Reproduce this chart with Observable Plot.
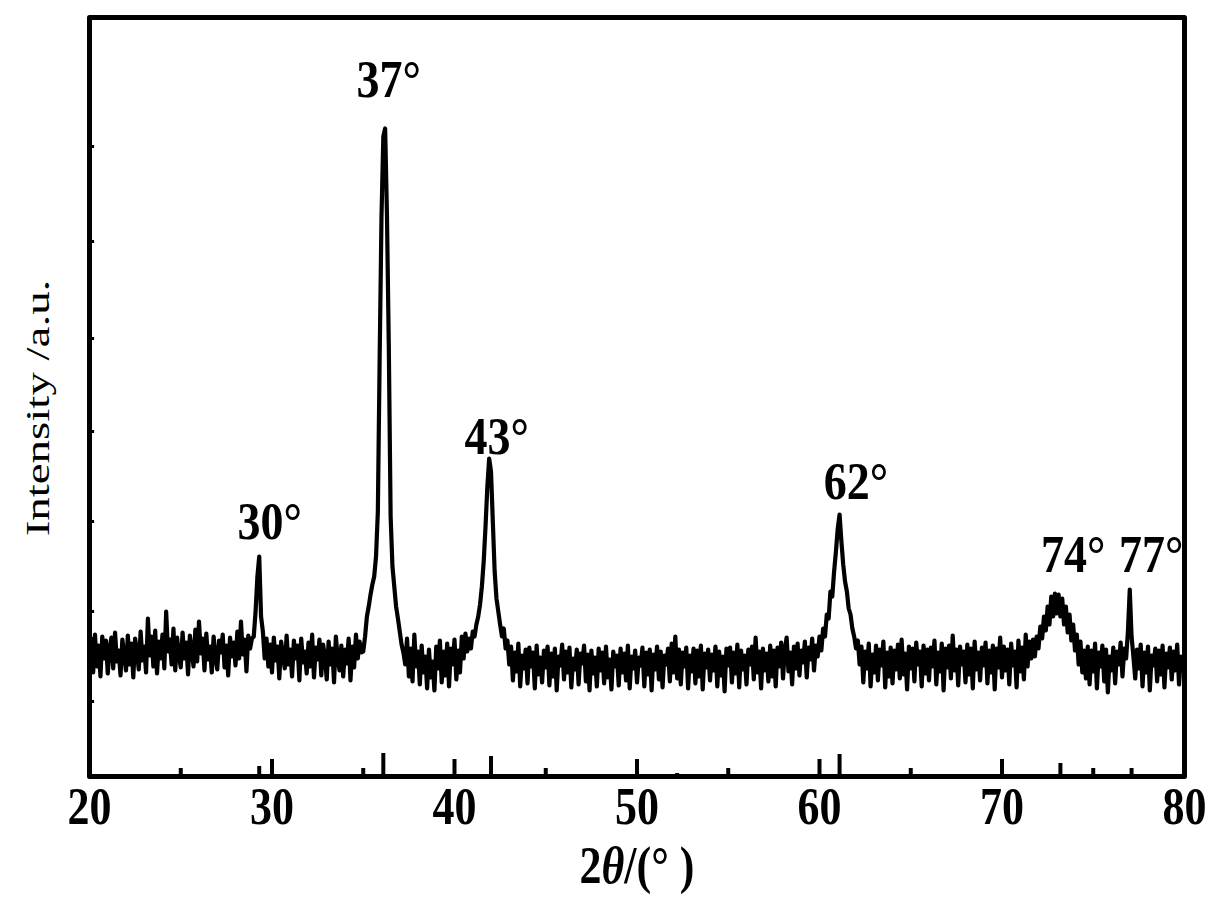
<!DOCTYPE html>
<html><head><meta charset="utf-8">
<script src="https://cdn.jsdelivr.net/npm/d3@7"></script>
<script src="https://cdn.jsdelivr.net/npm/@observablehq/plot@0.6"></script>
<style>body{margin:0;background:#fff}#chart{width:1210px;height:903px}</style>
</head><body><div id="chart"></div>
<script>
const STEP = 0.1;
const seg20 = [
120,138,104,142,110,131,100,140,118,136,
103,128,139,108,144,115,126,101,137,122,
106,141,112,133,99,138,124,107,145,116,
130,104,158,121,140,110,146,103,135,118,
142,108,165,125,137,112,148,106,139,121,
109,144,118,134,102,141,127,110,147,115,
155,123,138,106,143,117,130,104,140,119,
107,136,124,142,109,131,101,139,120,134,
111,145,118,155,122,137,105,141,128,138,
140,165,200,220,160,145,118,138,110,132];
const seg30 = [
104,139,116,130,98,135,121,108,141,112,
127,100,136,118,131,96,138,114,125,103,
134,110,142,99,129,117,137,101,132,120,
97,135,112,128,94,140,118,106,131,100,
127,113,138,96,130,109,142,118,135,124];
const seg35 = [125,140,160,170,182,192,200,220,265,420,560,640,648,560,430,260,210,190,170,158,145,132,124,112];
const seg374 = [
138,100,128,95,142,110,125,92,131,104,
120,88,127,99,115,86,130,108,136,94,
125,101,133,90,128,112,137,97,126,104,
140,118,143,125,
138,128,145,140,152,160,172,190,215,250,290,318,305,255,205,178,165,152,140,148,128,136,112];
const seg431 = [
130,96,124,105,133,90,121,108,127,
93,129,110,124,88,131,102,119,94,126,
109,130,91,123,100,128,86,120,111,132,
97,125,104,129,89,118,107,127,92,123,
113,131,95,122,86,126,103,119,90,128,
106,124,93,130,99,117,87,125,110,121,
91,128,104,123,96,131,88,120,108,126,
94,119,111,129,90,124,102,127,86,122,
107,130,97,125,89,121,112,128,95,133,
104,140,98,127,92,124,110,129,88,121,
105,128,93,126,100,131,87,123,109,127,
96,122,106,130,90,125,101,120,85,128,
111,129,94,124,103,132,89,126,107,121,
92,127,112,130,97,139,104,125,88,128,
106,123,95,131,100,126,90,129,110,134,
98,127,139,105,124,92,130,108,133,101,
126,114,135,99,129,117,138,106,131];
const seg599 = [120,140,126,148,140,162,158,185,180,205,225,248,262,235,212,195,185,168,162,148,140,128,136,112];
const seg623 = [
130,94,125,108,133,90,122,
104,131,96,127,111,135,89,124,100,129,
93,126,107,132,98,137,102,123,87,130,
108,128,95,134,112,125,90,131,103,127,
96,129,110,136,92,124,105,133,86,128,
109,131,98,141,106,127,91,130,112,125,
94,132,102,128,88,135,107,124,96,129,
111,134,93,126,104,131,87,128,109,139,
99,130,106,127,92,133,111,125,89,136,
105,129,97,142,110,135,118,137];
const seg718 = [120,140,128,150,138,160,146,170,152,180,160,183,163,182,160,178,152,170,144,162,136,152,126,142,112,135,104,126,98];
const seg747 = [
130,92,126,105,133,88,124,110,131,95,127,84,120,106,129,93,125,112,134,100,128,
118,145,187,140,120,
98,127,108,132,90,124,104,130,86,121,111,128,95,126,102,131,89,123,109,129,97,125,106,132,92,120,110,118];
const segmentStarts = [20.0, 30.0, 35.0, 37.4, 43.1, 59.9, 62.3, 71.8, 74.7];
const segmentValues = [seg20, seg30, seg35, seg374, seg431, seg599, seg623, seg718, seg747];

// axis ticks and reference stick pattern on the bottom axis
const xTickLabels = [20, 30, 40, 50, 60, 70, 80];
const majorTicks = [30, 40, 50, 60, 70];
const minorTicks = [25, 35, 45, 55, 65, 75];
const stickAngle = [29.3, 36.1, 42.0, 52.2, 61.1, 73.2, 77.1];
const stickIntensity = [10, 23, 20, 3, 22, 13, 8];
const yTicks = [75, 165, 255, 345, 438, 535, 630];

// peak annotations
const peakLabels = ["30°", "37°", "43°", "62°", "74°", "77°"];
const peakLabelAngle = [29.87, 36.39, 42.31, 62.0, 73.9, 78.17];
const peakLabelIntensity = [254, 696, 339, 294, 221, 221];

const xLabel = "2θ/(° )";
const yLabel = "Intensity /a.u.";

const pattern = segmentStarts.flatMap((s, k) =>
  segmentValues[k].map((v, i) => ({angle: +(s + i * STEP).toFixed(2), intensity: v})));
const sticks = stickAngle.map((a, i) => ({angle: a, h: stickIntensity[i]}));
const peaks = peakLabels.map((t, i) => ({text: t, angle: peakLabelAngle[i], intensity: peakLabelIntensity[i]}));

const serif = "'Liberation Serif', 'Times New Roman', serif";
const svg = Plot.plot({
  width: 1210, height: 903,
  marginLeft: 89, marginRight: 26, marginTop: 17, marginBottom: 127,
  x: {domain: [20, 80], axis: null},
  y: {domain: [0, 759], axis: null},
  style: {fontFamily: serif, background: "#fff", color: "#000", overflow: "visible"},
  marks: [
    Plot.lineY(pattern, {x: "angle", y: "intensity", stroke: "#000", strokeWidth: 4.2, strokeLinejoin: "round"}),
    Plot.ruleX(majorTicks, {x: d => d, y1: 0, y2: 17, stroke: "#000", strokeWidth: 4}),
    Plot.ruleX(minorTicks, {x: d => d, y1: 0, y2: 8, stroke: "#000", strokeWidth: 4}),
    Plot.ruleX(sticks, {x: "angle", y1: 0, y2: "h", stroke: "#000", strokeWidth: 4}),
    Plot.ruleY(yTicks, {y: d => d, x1: 20, x2: 20.28, stroke: "#000", strokeWidth: 3}),
    Plot.frame({stroke: "#000", strokeWidth: 5, strokeLinejoin: "round"}),
    Plot.text(xTickLabels, {x: d => d, frameAnchor: "bottom", lineAnchor: "middle", textAnchor: "middle", dy: 31, text: d => String(d), fontSize: 44, fontWeight: "bold", fill: "#000"}),
    Plot.text([xLabel], {frameAnchor: "bottom", lineAnchor: "middle", textAnchor: "middle", dy: 90, text: d => d, fontSize: 44, fontWeight: "bold", fill: "#000"}),
    Plot.text([yLabel], {frameAnchor: "left", lineAnchor: "middle", textAnchor: "middle", dx: -51, dy: 11, rotate: -90, text: d => d, fontSize: 34, fill: "#000"}),
    Plot.text(peaks, {x: "angle", y: "intensity", text: "text", fontSize: 46, fontWeight: "bold", fill: "#000"})
  ]
});

// vertically stretched lettering as in the original figure
svg.querySelectorAll("text").forEach(t => {
  const s = t.textContent;
  const tr = t.getAttribute("transform") || "";
  if (s === yLabel) {
    t.setAttribute("transform", tr + " scale(1.38,1)");
  } else if (peakLabels.includes(s)) {
    t.setAttribute("transform", tr + " scale(1,1.15)");
  } else {
    t.setAttribute("transform", tr + " scale(1,1.2)");
  }
  if (s === xLabel) {
    t.textContent = "";
    const parts = [["2", null], ["θ", "italic"], ["/(° )", null]];
    for (const [txt, st] of parts) {
      const sp = document.createElementNS("http://www.w3.org/2000/svg", "tspan");
      sp.textContent = txt;
      if (st) sp.setAttribute("font-style", st);
      t.appendChild(sp);
    }
  }
});
document.getElementById("chart").appendChild(svg);
</script>
</body></html>
